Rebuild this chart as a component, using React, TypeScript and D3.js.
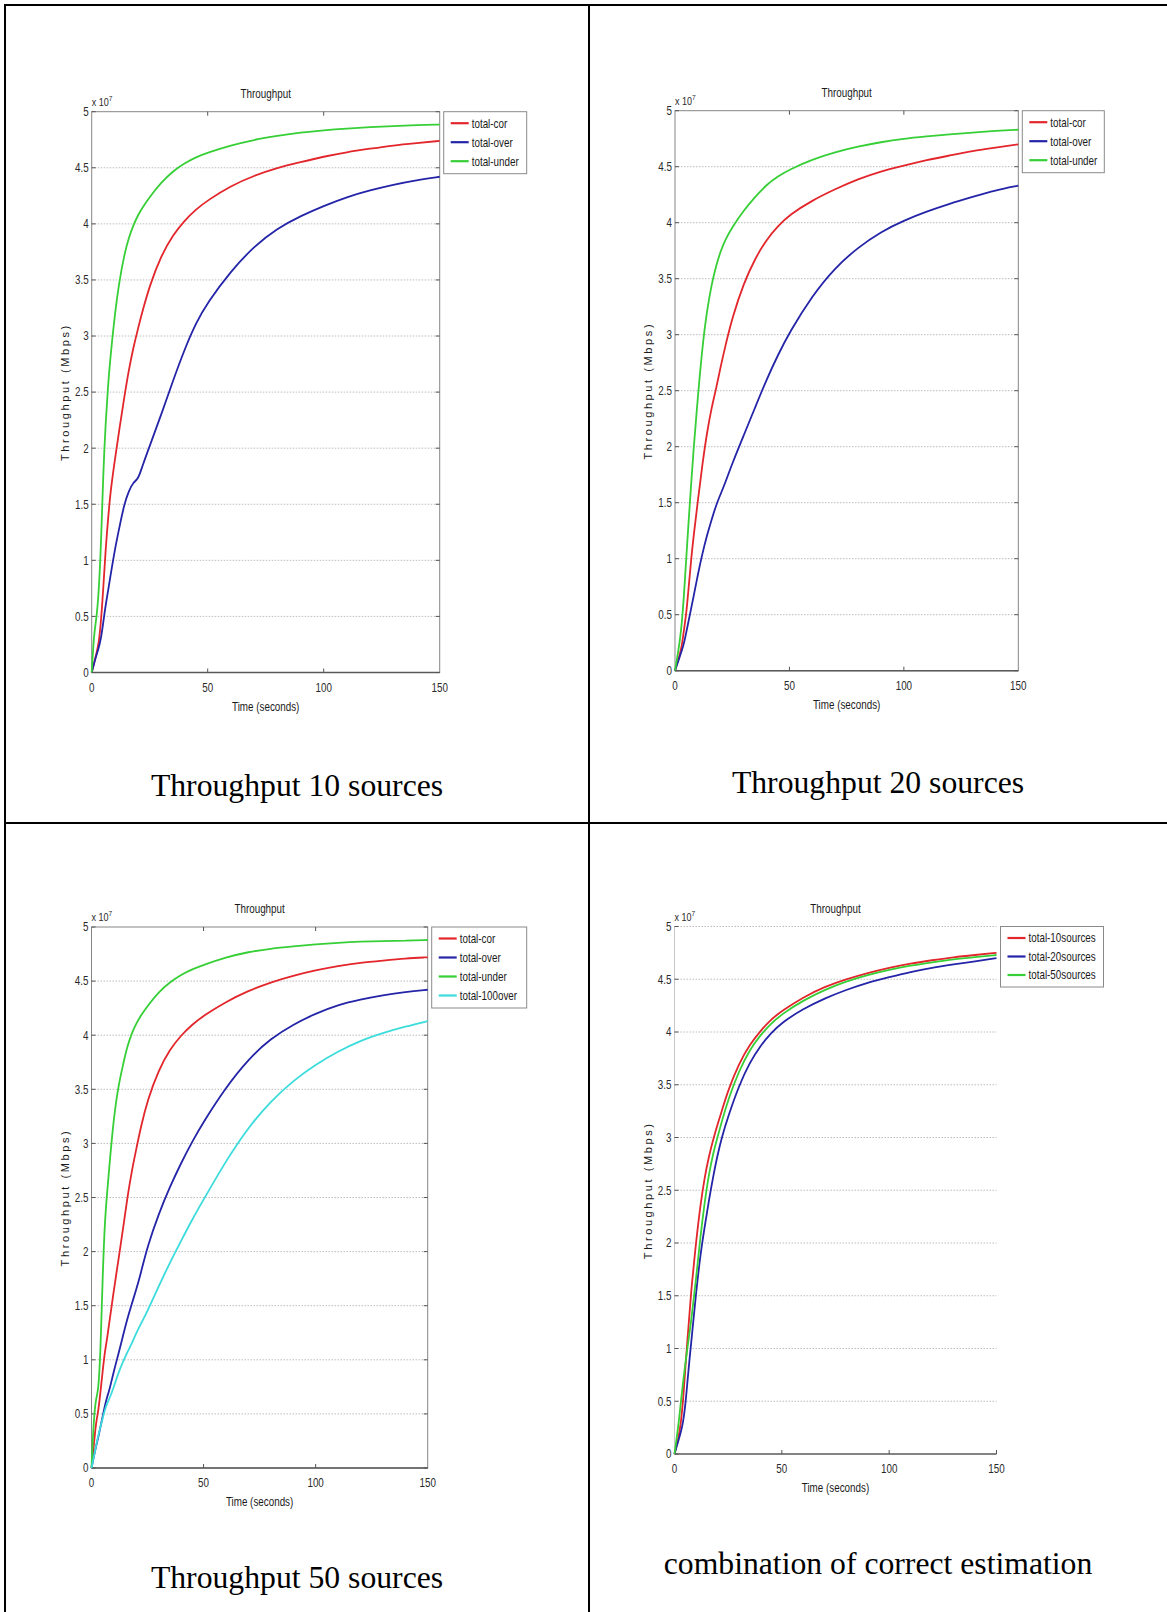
import React from "react";
import * as d3 from "d3";

// sample times (seconds), shared by every series
const timeSec = [0, 1, 2, 3, 4, 5, 6, 7, 8, 10, 12, 14, 16, 18, 20, 22, 25, 30, 35, 40, 45, 50, 60, 70, 80, 90, 100, 110, 120, 130, 140, 150];

// throughput values in units of 1e7
const cor10 = [0, 0.08, 0.17, 0.25, 0.45, 0.75, 1.1, 1.35, 1.6, 1.9, 2.18, 2.45, 2.7, 2.9, 3.07, 3.23, 3.45, 3.72, 3.9, 4.03, 4.13, 4.21, 4.34, 4.43, 4.5, 4.55, 4.6, 4.64, 4.67, 4.7, 4.72, 4.74];
const over10 = [0, 0.08, 0.15, 0.22, 0.3, 0.45, 0.6, 0.72, 0.85, 1.1, 1.3, 1.5, 1.62, 1.7, 1.72, 1.85, 2.02, 2.3, 2.6, 2.88, 3.12, 3.3, 3.58, 3.8, 3.96, 4.07, 4.16, 4.24, 4.3, 4.35, 4.39, 4.42];
const under10 = [0, 0.35, 0.47, 0.7, 1.12, 1.8, 2.22, 2.55, 2.8, 3.2, 3.5, 3.72, 3.88, 3.99, 4.08, 4.15, 4.24, 4.37, 4.47, 4.54, 4.595, 4.635, 4.7, 4.75, 4.785, 4.815, 4.835, 4.85, 4.862, 4.872, 4.88, 4.885];

const cor20 = [0, 0.07, 0.14, 0.22, 0.38, 0.52, 0.75, 0.98, 1.18, 1.52, 1.85, 2.13, 2.35, 2.52, 2.72, 2.9, 3.15, 3.46, 3.68, 3.85, 3.97, 4.07, 4.2, 4.3, 4.39, 4.46, 4.51, 4.56, 4.6, 4.64, 4.67, 4.7];
const over20 = [0, 0.06, 0.12, 0.18, 0.25, 0.35, 0.45, 0.55, 0.65, 0.86, 1.05, 1.21, 1.35, 1.48, 1.58, 1.68, 1.85, 2.1, 2.35, 2.6, 2.82, 3.02, 3.35, 3.6, 3.78, 3.92, 4.02, 4.1, 4.17, 4.23, 4.29, 4.33];
const under20 = [0, 0.12, 0.25, 0.42, 0.7, 1.03, 1.35, 1.65, 1.95, 2.45, 2.9, 3.22, 3.45, 3.62, 3.75, 3.85, 3.96, 4.11, 4.23, 4.34, 4.415, 4.475, 4.565, 4.63, 4.68, 4.72, 4.75, 4.77, 4.79, 4.805, 4.82, 4.83];

const cor50 = [0, 0.2, 0.42, 0.52, 0.7, 0.9, 1.08, 1.2, 1.35, 1.65, 1.92, 2.2, 2.5, 2.75, 2.95, 3.15, 3.4, 3.68, 3.87, 4.0, 4.1, 4.18, 4.31, 4.41, 4.49, 4.55, 4.6, 4.64, 4.67, 4.69, 4.71, 4.72];
const over50 = [0, 0.1, 0.2, 0.28, 0.38, 0.48, 0.58, 0.66, 0.72, 0.9, 1.05, 1.22, 1.38, 1.52, 1.65, 1.8, 2.05, 2.35, 2.6, 2.82, 3.02, 3.2, 3.52, 3.78, 3.97, 4.1, 4.2, 4.28, 4.33, 4.37, 4.4, 4.42];
const under50 = [0, 0.45, 0.65, 0.7, 1.05, 1.8, 2.3, 2.55, 2.8, 3.25, 3.53, 3.72, 3.9, 4.02, 4.11, 4.18, 4.27, 4.4, 4.49, 4.56, 4.61, 4.65, 4.72, 4.77, 4.8, 4.82, 4.84, 4.855, 4.865, 4.87, 4.875, 4.88];
const over100 = [0, 0.1, 0.2, 0.3, 0.38, 0.46, 0.54, 0.6, 0.64, 0.75, 0.88, 0.98, 1.07, 1.15, 1.25, 1.33, 1.45, 1.68, 1.9, 2.1, 2.3, 2.48, 2.84, 3.15, 3.39, 3.58, 3.73, 3.85, 3.95, 4.02, 4.08, 4.13];

// combination panel (correct estimation for 10, 20, 50 sources)
const comb10 = [0, 0.08, 0.17, 0.3, 0.5, 0.8, 1.08, 1.33, 1.6, 2.0, 2.35, 2.62, 2.82, 2.98, 3.12, 3.25, 3.45, 3.7, 3.88, 4.01, 4.12, 4.2, 4.33, 4.43, 4.5, 4.56, 4.61, 4.65, 4.68, 4.71, 4.73, 4.75];
const comb20 = [0, 0.07, 0.14, 0.21, 0.3, 0.45, 0.68, 0.9, 1.1, 1.52, 1.88, 2.15, 2.4, 2.63, 2.83, 3.0, 3.2, 3.49, 3.71, 3.87, 3.99, 4.09, 4.22, 4.32, 4.4, 4.47, 4.52, 4.57, 4.61, 4.64, 4.67, 4.7];
const comb50 = [0, 0.15, 0.3, 0.5, 0.68, 0.85, 1.0, 1.15, 1.3, 1.65, 2.05, 2.38, 2.65, 2.85, 3.0, 3.15, 3.36, 3.63, 3.83, 3.97, 4.08, 4.17, 4.3, 4.4, 4.48, 4.54, 4.59, 4.63, 4.66, 4.69, 4.71, 4.73];

const yTicks = [0, 0.5, 1, 1.5, 2, 2.5, 3, 3.5, 4, 4.5, 5];
const xTicks = [0, 50, 100, 150];

const RED = "#e2262b";
const BLUE = "#2424a8";
const GREEN = "#36cf36";
const CYAN = "#3cdcdc";

const AXIS_FONT = "'Liberation Sans', Arial, sans-serif";
const CAPTION_FONT = "'Liberation Serif', 'Times New Roman', serif";
const NARROW = 0.82; // no narrow font installed, squeeze Arial instead

type Series = { name: string; values: number[]; color: string };

// horizontally squeezed text, anchored at (x, y)
function NText(props: { x: number; y: number; anchor?: string; size?: number; dy?: string; fill?: string; children: React.ReactNode }) {
  const { x, y, anchor = "start", size = 12, dy, fill = "#222", children } = props;
  return (
    <g transform={`translate(${x},${y}) scale(${NARROW},1)`}>
      <text x={0} y={0} dy={dy} textAnchor={anchor} fontSize={size} fontFamily={AXIS_FONT} fill={fill}>
        {children}
      </text>
    </g>
  );
}

type PanelProps = {
  left: number;
  right: number;
  top: number;
  bottom: number;
  series: Series[];
  legendWidth: number;
  boxed: boolean;
  caption: string;
  captionX: number;
  captionY: number;
};

function Panel(props: PanelProps) {
  const { left, right, top, bottom, series, legendWidth, boxed, caption, captionX, captionY } = props;
  const x = d3.scaleLinear().domain([0, 150]).range([left, right]);
  const y = d3.scaleLinear().domain([0, 5]).range([bottom, top]);
  const line = d3
    .line<number>()
    .x((_, i) => x(timeSec[i]))
    .y((d) => y(d))
    .curve(d3.curveBasis);

  const rowH = boxed ? 19 : 18.5;
  const lx = right + 4;
  const lh = 5 + series.length * rowH;
  const midX = (left + right) / 2;

  return (
    <g>
      {/* grid */}
      {yTicks
        .filter((v) => v > 0 && (boxed ? v < 5 : true))
        .map((v) => (
          <line key={"g" + v} x1={left} x2={right} y1={y(v)} y2={y(v)} stroke="#bdbdbd" strokeDasharray="1.5 1.5" />
        ))}

      {/* frame */}
      {boxed ? (
        <rect x={left} y={top} width={right - left} height={bottom - top} fill="none" stroke="#858585" strokeWidth={1} />
      ) : (
        <line x1={left} x2={left} y1={top} y2={bottom} stroke="#c6c6c6" strokeWidth={1} />
      )}
      <line x1={left} x2={right} y1={bottom} y2={bottom} stroke="#5a5a5a" strokeWidth={1.6} />

      {/* ticks */}
      {yTicks.map((v) => (
        <g key={"yt" + v}>
          <line x1={left} x2={left + 4} y1={y(v)} y2={y(v)} stroke="#555" />
          {boxed && <line x1={right - 4} x2={right} y1={y(v)} y2={y(v)} stroke="#555" />}
          <NText x={left - 3} y={y(v)} dy="0.36em" anchor="end" fill="#2a2a2a">
            {String(v)}
          </NText>
        </g>
      ))}
      {xTicks.map((v) => (
        <g key={"xt" + v}>
          {v > 0 && (boxed ? v < 150 : true) && (
            <line x1={x(v)} x2={x(v)} y1={bottom} y2={bottom - 4} stroke="#555" />
          )}
          {boxed && v > 0 && v < 150 && <line x1={x(v)} x2={x(v)} y1={top} y2={top + 4} stroke="#555" />}
          <NText x={x(v)} y={bottom + 19} anchor="middle" fill="#2a2a2a">
            {String(v)}
          </NText>
        </g>
      ))}

      {/* exponent */}
      <NText x={left} y={top - 6} size={11} fill="#2a2a2a">
        x 10
        <tspan fontSize={8} dy={-5}>
          7
        </tspan>
      </NText>

      {/* titles */}
      <NText x={midX} y={top - 14} anchor="middle" fill="#1a1a1a">
        Throughput
      </NText>
      <NText x={midX} y={bottom + 38} anchor="middle" fill="#1a1a1a">
        Time (seconds)
      </NText>
      <text
        transform={`translate(${left - 23},${(top + bottom) / 2}) rotate(-90)`}
        textAnchor="middle"
        fontSize={11}
        letterSpacing={2.6}
        fontFamily={AXIS_FONT}
        fill="#1a1a1a"
      >
        Throughput (Mbps)
      </text>

      {/* curves */}
      {series.map((s) => (
        <path key={s.name} d={line(s.values) || ""} fill="none" stroke={s.color} strokeWidth={1.8} />
      ))}

      {/* legend */}
      <rect x={lx} y={top} width={legendWidth} height={lh} fill="#fff" stroke="#8a8a8a" />
      {series.map((s, i) => {
        const ry = top + 11.5 + i * rowH;
        return (
          <g key={"lg" + s.name}>
            <line x1={lx + 7} x2={lx + 25} y1={ry} y2={ry} stroke={s.color} strokeWidth={2.2} />
            <NText x={lx + 28} y={ry} dy="0.36em" fill="#1a1a1a">
              {s.name}
            </NText>
          </g>
        );
      })}

      {/* caption */}
      <text x={captionX} y={captionY} textAnchor="middle" fontSize={31.7} fontFamily={CAPTION_FONT} fill="#000">
        {caption}
      </text>
    </g>
  );
}

export default function App() {
  const panel10: Series[] = [
    { name: "total-cor", values: cor10, color: RED },
    { name: "total-over", values: over10, color: BLUE },
    { name: "total-under", values: under10, color: GREEN },
  ];
  const panel20: Series[] = [
    { name: "total-cor", values: cor20, color: RED },
    { name: "total-over", values: over20, color: BLUE },
    { name: "total-under", values: under20, color: GREEN },
  ];
  const panel50: Series[] = [
    { name: "total-cor", values: cor50, color: RED },
    { name: "total-over", values: over50, color: BLUE },
    { name: "total-under", values: under50, color: GREEN },
    { name: "total-100over", values: over100, color: CYAN },
  ];
  const panelComb: Series[] = [
    { name: "total-10sources", values: comb10, color: RED },
    { name: "total-20sources", values: comb20, color: BLUE },
    { name: "total-50sources", values: comb50, color: GREEN },
  ];

  return (
    <svg width={1167} height={1612} style={{ position: "absolute", left: 0, top: 0, background: "#fff" }}>
      <rect x={0} y={0} width={1167} height={1612} fill="#fff" />
      {/* table lines */}
      <line x1={4} x2={1167} y1={5} y2={5} stroke="#000" strokeWidth={2} />
      <line x1={5} x2={5} y1={4} y2={1612} stroke="#000" strokeWidth={2} />
      <line x1={589} x2={589} y1={4} y2={1612} stroke="#000" strokeWidth={2} />
      <line x1={4} x2={1167} y1={823} y2={823} stroke="#000" strokeWidth={2} />

      <Panel left={91.7} right={439.7} top={111.7} bottom={672.5} series={panel10} legendWidth={83} boxed
        caption="Throughput 10 sources" captionX={297} captionY={796} />
      <Panel left={675} right={1018.3} top={110.7} bottom={670.7} series={panel20} legendWidth={82} boxed
        caption="Throughput 20 sources" captionX={878} captionY={793} />
      <Panel left={91.5} right={427.7} top={927} bottom={1468} series={panel50} legendWidth={95} boxed
        caption="Throughput 50 sources" captionX={297} captionY={1588} />
      <Panel left={674.5} right={996.5} top={926.5} bottom={1454} series={panelComb} legendWidth={103} boxed={false}
        caption="combination of correct estimation" captionX={878} captionY={1574} />
    </svg>
  );
}
